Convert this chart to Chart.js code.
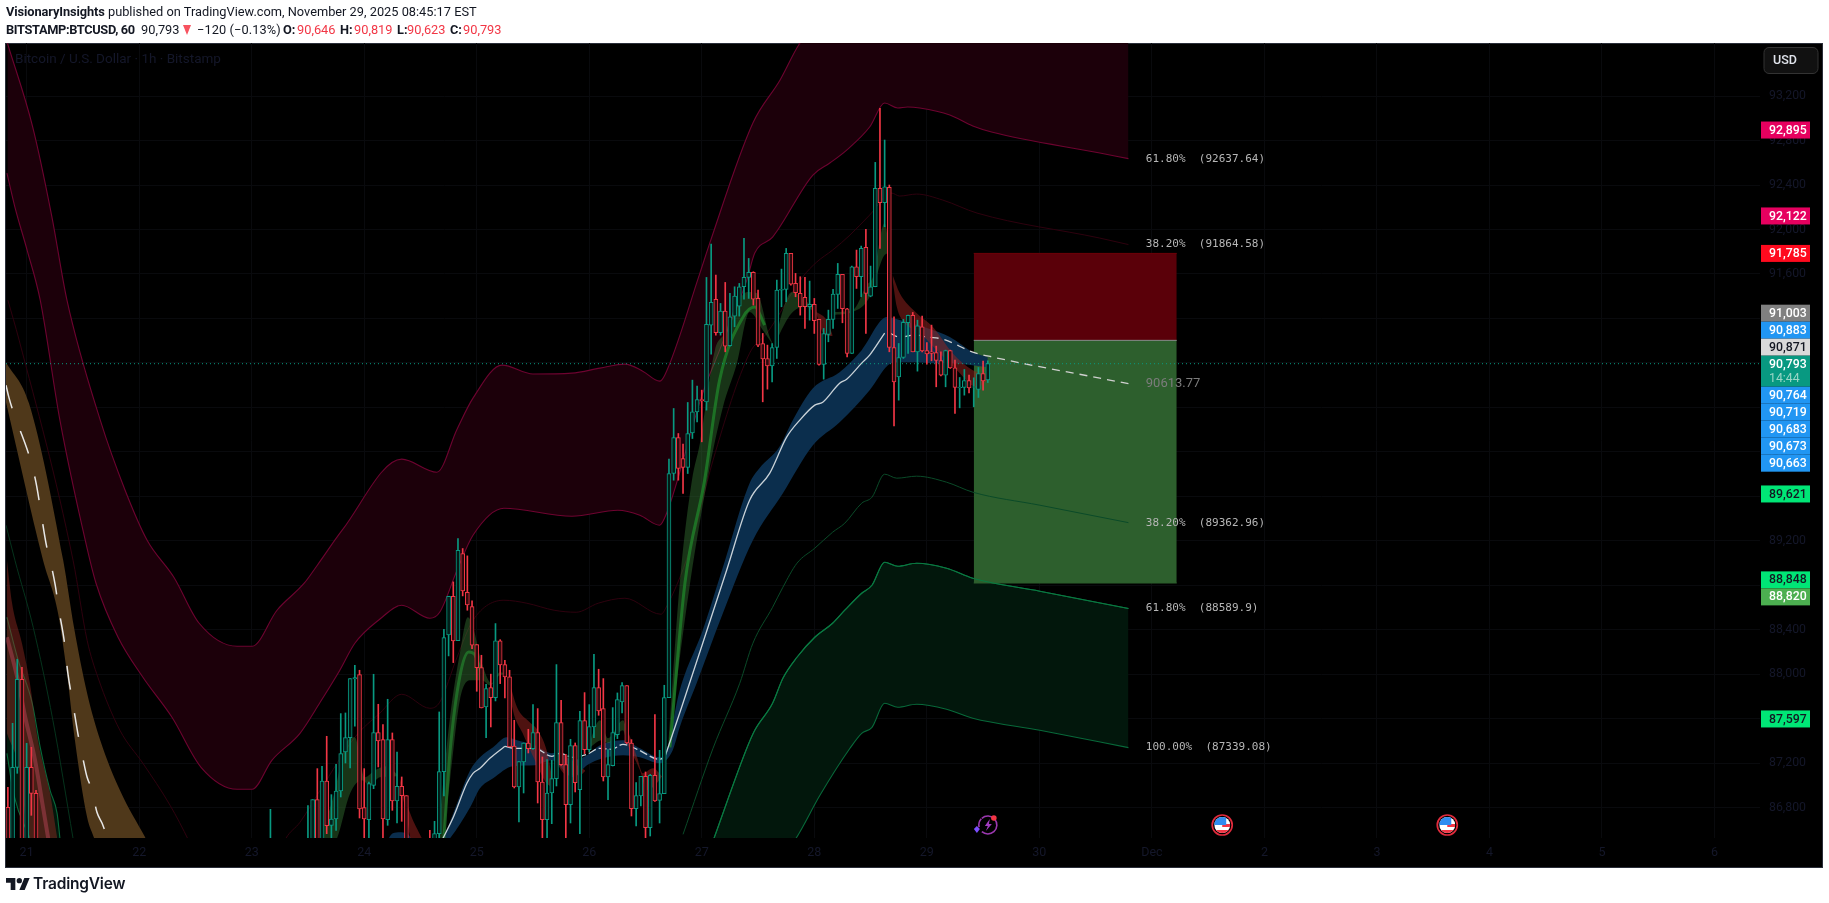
<!DOCTYPE html>
<html><head><meta charset="utf-8"><title>BTCUSD</title>
<script src="https://cdn.jsdelivr.net/npm/chart.js@4"></script>
<style>
html,body{margin:0;padding:0;background:#fff;width:1829px;height:903px;overflow:hidden;font-family:Roboto,sans-serif}
canvas{position:absolute;left:0;top:0}
.hd{position:absolute;font-size:12.8px;line-height:18px;color:#131722;white-space:nowrap;z-index:2}
.hd b{font-weight:700}.r{color:#f23645}
.tri{position:absolute;left:183px;top:25px;width:0;height:0;border-left:4.5px solid transparent;border-right:4.5px solid transparent;border-top:10px solid #f7525f;z-index:2}
#tv{position:absolute;left:6px;top:878px;z-index:2}
#tvt{position:absolute;left:33px;top:874px;font:600 15.5px/20px Inter,Roboto,sans-serif;letter-spacing:-.2px;color:#131722;z-index:2}
</style></head><body>
<div class="hd" style="left:6px;top:3px"><b style="letter-spacing:-.1px">VisionaryInsights</b> published on TradingView.com, November 29, 2025 08:45:17 EST</div>
<div class="hd" style="left:6px;top:21px;letter-spacing:-.35px"><b>BITSTAMP:BTCUSD, 60</b></div>
<div class="hd" style="left:141px;top:21px">90,793</div><div class="tri"></div>
<div class="hd" style="left:197px;top:21px;letter-spacing:.1px">−120 (−0.13%)</div>
<div class="hd" style="left:283px;top:21px"><b>O:</b></div><div class="hd r" style="left:297px;top:21px">90,646</div>
<div class="hd" style="left:340px;top:21px"><b>H:</b></div><div class="hd r" style="left:354px;top:21px">90,819</div>
<div class="hd" style="left:397px;top:21px"><b>L:</b></div><div class="hd r" style="left:407px;top:21px">90,623</div>
<div class="hd" style="left:450px;top:21px"><b>C:</b></div><div class="hd r" style="left:463px;top:21px">90,793</div>
<canvas id="c" width="1829" height="903" style="width:1829px;height:903px"></canvas>
<svg id="tv" width="24" height="12" viewBox="0 0 36 18"><path fill="#131722" d="M14 18H7V7H0V0h14v18zM28 18h-8L27.5 0h8L28 18z"/><circle cx="20" cy="4" r="4" fill="#131722"/></svg>
<div id="tvt">TradingView</div>
<script>
// ---- axes -----
const dayTickHours=[0,24,48,72,96,120,144,168,192,216,240,264,288,312,336,360];
const dayTickLabels=['21','22','23','24','25','26','27','28','29','30','Dec','2','3','4','5','6'];
const priceTicks=[86800,87200,87600,88000,88400,88800,89200,89600,90000,90400,90800,91200,91600,92000,92400,92800,93200];
// ---- candles (hours from Nov 21 00:00) -----
const candleHours=[-4,-3,-2,-1,0,1,2,52,
60,61,62,63,64,65,66,67,68,69,70,71,72,73,74,75,76,77,78,79,80,81,
86,87,88,89,90,91,92,93,94,95,96,97,98,99,100,
101,102,103,104,105,106,107,108,109,110,111,112,113,114,115,116,117,118,119,120,121,122,123,124,125,126,127,128,129,130,131,132,133,134,135,136,
137,138,139,140,141,142,143,144,145,146,147,148,149,150,151,152,153,154,155,156,157,158,159,160,161,162,163,164,
165,166,167,168,169,170,171,172,173,174,175,176,177,178,179,180,181,182,183,184,185,186,187,188,189,190,191,192,193,194,195,196,197,198,199,200,201,202,203,204,205];
const candleOpen=[86802,86300,87162,87954,86300,87162,86928,86300,
86400,86400,86871,86400,87039,86640,86697,86949,87300,87429,87957,87996,86799,86691,87000,87474,87411,86691,87411,86859,86991,86907,
86500,86400,86565,87123,88353,88701,88302,89085,88737,88608,88266,88059,87705,87879,87789,
88299,88086,87975,87354,86985,87210,87381,87330,87474,87030,86691,86931,87060,87564,87186,86826,87357,86961,87582,87321,87525,87879,87690,87075,87177,87456,87750,87897,87381,86790,86904,87081,86619,87090,86865,86925,
87789,89805,90129,89940,89859,90171,90360,90471,90450,91140,91371,91071,91266,90954,91221,91311,91485,91569,91614,91380,90975,90840,90774,90939,91455,91461,91785,91515,
91425,91389,91305,91326,91191,90786,91056,91191,91416,91596,91287,90885,91665,91575,91839,91401,91485,92370,92241,92379,90939,90675,90849,91161,91227,90900,91125,90912,90900,90894,90822,90690,90912,90756,90576,90579,90642,90582,90561,90705,90646];
const candleHigh=[86982,87558,88134,88062,87378,87342,86955,86784,
86817,86871,87150,87171,87441,86916,87189,87645,87651,87960,88080,88035,87150,87030,87999,87729,87546,87774,87471,87300,87075,86907,
86595,86676,87660,88404,88701,88830,89220,89130,89064,88659,88266,88170,87909,88000,88455,
88310,88125,88035,87585,87213,87381,87504,87726,87690,87255,87231,87225,88086,87765,87279,87414,87381,87666,87834,87726,88179,88044,87960,87321,87699,87831,87924,87897,87411,87024,87081,87120,87099,87636,87315,87900,
89934,90390,90165,90069,90444,90645,90591,90555,91569,91869,91590,91335,91524,91425,91485,91515,91920,91740,91620,91455,91065,90960,90975,91545,91644,91830,91785,91605,
91575,91569,91536,91380,91191,91110,91275,91461,91695,91596,91290,91671,91815,91851,92001,91671,92604,93090,92805,92400,91215,90975,91191,91230,91254,91185,91221,90984,91140,90951,90900,90915,90915,90825,90669,90741,90690,90666,90759,90816,90819];
const candleLow=[86200,86200,87108,86200,86200,86730,86200,86200,
86300,86300,86300,86300,86565,86400,86595,86895,87201,87156,87531,86706,86400,86400,86970,87165,86400,86640,86775,86661,86676,86300,
86300,86300,86480,86904,88164,88104,88302,88704,88575,88230,87846,87696,87429,87525,87759,
87915,87786,87345,86976,86670,86931,87291,87324,86841,86529,86529,86655,86994,87180,86529,86661,86940,86565,87285,87300,87429,87630,87039,86871,87174,87420,87651,87375,86724,86634,86814,86523,86544,86856,86661,86925,
87789,89745,89745,89625,89805,90120,90270,90090,90375,90879,91050,91050,90900,90951,91125,91221,91374,91380,91320,90945,90450,90564,90630,90840,91305,91350,91500,91395,
91230,91110,91185,91065,90780,90654,90990,91110,91290,91161,90855,90885,91470,91395,91065,91395,91485,91830,92025,90900,90234,90465,90840,90885,90900,90726,90900,90789,90819,90585,90684,90585,90750,90345,90396,90510,90531,90405,90489,90555,90623];
const candleClose=[86300,87162,87954,86300,87162,86928,86300,86400,
86500,86871,86400,87039,86637,86697,86949,87285,87429,87960,87969,86787,86697,87015,87474,87399,86697,87411,86859,86991,86907,86400,
86400,86565,87123,88329,88701,88299,89115,88749,88623,88260,88059,87696,87870,87789,88299,
88083,87975,87345,86985,87213,87381,87330,87474,87030,86691,86931,87060,87564,87186,86826,87357,87024,87582,87321,87528,87879,87669,87075,87186,87474,87771,87897,87381,86790,86907,87081,86619,87090,86859,86925,87789,
89805,90129,89850,89859,90165,90360,90471,90459,91146,91344,91071,91266,90951,91215,91401,91485,91569,91614,91374,90960,90837,90774,90939,91455,91461,91785,91509,91431,
91305,91305,91326,91179,90786,91065,91191,91419,91596,91287,90885,91665,91575,91830,91425,91485,92370,92241,92385,90939,90630,90849,91164,91227,90900,91134,90909,90882,90885,90822,90690,90912,90756,90579,90582,90642,90576,90585,90705,90639,90793];
// ---- envelope lines -----
const u100H=[-4.1,1.3,5.4,8.6,15.7,21,25.7,31.4,36.8,44.9,48.1,53.4,59.2,62,67.3,80,87.5,91.8,95.2,101.4,108,116.3,122.3,127.6,131.4,135,136.1,143.6,145.7,154.9,160.7,164.8,175,184,200,235];
const u100P=[93678,92922,92112,91365,90285,89655,89205,88872,88458,88251,88251,88575,88818,88980,89295,89934,89817,90204,90483,90780,90700,90708,90753,90789,90726,90636,90690,91608,91878,92958,93345,93669,94150,94420,94230,93888];
const u618H=[-4.2,-2.5,0.1,2.9,7.1,12.5,14.8,19.5,24.8,31,37.2,44.9,48.1,52.3,58.3,62.6,66.8,70,75.3,80,86,88.1,91.8,95.2,101.8,116.3,126.1,130.8,135,136.5,144.2,147.8,153.6,155.3,159.1,167.7,171.3,174.9,179.8,183,185.8,187.9,190.5,196.9,201.8,205.8,228.9,235];
const u618P=[92508,92202,91815,91365,90285,89205,88818,88332,87972,87612,87162,86964,86964,87225,87468,87747,88035,88278,88494,88620,88503,88557,88935,89250,89493,89421,89475,89430,89340,89448,90528,90915,91545,91788,91932,92490,92598,92715,92922,93138,93093,93102,93093,93030,92931,92877,92688,92637.64];
const u382H=[-4,-1.6,9.9,12.9,15.2,19.9,24.8,30.6,34.6,40,50,55.3,58.3,62.6,70,75.3,80,86,88.1,91.8,95.2,101.8,106.7,112.5,117.2,121.9,127.6,135.3,136.3,141.4,146.4,154.2,157.9,165.5,168.5,171.9,175.6,179.8,184.5,186.2,189.8,195.4,202.7,228.9,235];
const u382P=[91365,91005,89025,88305,87972,87495,87198,86820,86500,86000,86000,86523,86667,86955,87432,87648,87819,87693,87747,88152,88485,88665,88638,88575,88557,88638,88683,88539,88593,89115,89925,90888,91068,91572,91707,91815,91950,92130,92328,92301,92319,92265,92148,91923,91864.58];
const l382LeftH=[-4.4,-2.5,1.4,5.6,9.9];
const l382LeftP=[89340,89025,88422,87585,86523];
const l618LeftH=[-4.2,-1.8,1.2,2.9,5,6.5,7.1];
const l618LeftP=[88512,88125,87738,87342,86955,86748,86523];
const l100LeftH=[-4.2,-2.7,0.7,7.1];
const l100LeftP=[87288,86910,86523,85800];
const l382H=[140,146.4,152.1,154.9,159.1,161.3,164.3,168.1,171.9,174.5,178.1,180.3,183,185.6,189.8,196.2,201.8,216.1,235];
const l382P=[86559,87333,87918,88278,88602,88782,88998,89133,89277,89358,89538,89592,89799,89763,89781,89727,89637,89520,89362.96];
const l618H=[146.6,153.6,155.3,159.1,161.3,164.3,168.1,171.9,174.5,178.1,180.3,183,185.8,189.8,196.2,201.8,216.1,235];
const l618P=[86523,87333,87495,87738,87963,88152,88332,88458,88575,88728,88800,89007,88971,88998,88953,88863,88746,88589.9];
const l100H=[146,164.1,169.2,175.6,178.1,180.3,183,185.8,189.8,196.2,201.8,216.1,235];
const l100P=[85500,86523,86910,87333,87468,87522,87738,87702,87729,87684,87603,87495,87339.08];
// ---- central line -----
const midDownH=[-4.4,-3.8,1.8,4.3,5,6.1,6.9,8,8.8,9.9,11,12,12.9,13.9,15,16.1,16.9,17.8];
const midDownP=[90600,90492,89763,89142,89025,88800,88575,88305,88008,87729,87450,87243,87072,86964,86757,86658,86568,86487];
const midUp1H=[88.8,91,93.9,95.2,96.7,98.8,102];
const midUp1P=[86523,86712,87018,87108,87153,87243,87351];
const midFlatH=[102,104.1,108.4,112,113.7,116.5,119.5,122.3,124.8,127.2,130.2,135,136.1];
const midFlatP=[87351,87333,87333,87261,87288,87252,87279,87333,87324,87369,87324,87234,87252];
const midUp2H=[136.1,139.7,144.2,149.3,154.2,158.5,162.1,164.9,168.1,169.8,173.4,174.9,178.1,179.8,183];
const midUp2P=[87252,87702,88278,88935,89565,89808,90132,90285,90420,90447,90618,90654,90798,90870,91068];
const midEndH=[184.1,186.2,189.4,192.2,195.4,201.8,206.1,228.9,235];
const midEndP=[91068,91032,91050,91032,91014,90897,90852,90663,90613.77];
// ---- ribbons -----
const brownTopH=[-4.4,0.5,7.8,10.1,12.9,15.7,19.9,25.4];
const brownTopP=[90807,90438,89025,88422,87828,87405,86955,86523];
const brownBotH=[-4.4,3.5,6.7,8.6,10.3,12.9,14.4,16,26];
const brownBotP=[90447,89025,88548,88008,87405,86712,86523,86300,85900];
const blueTopH=[76.4,78.1,79.6,81.1,82.8,85,88.8,91,94.6,96.7,99.5,102.4,104.6,108.4,112,113.3,116.5,119.5,122.3,127.2,130.8,135,136.5,139.3,144.2,148.5,154.2,156.3,160.5,163.4,167.7,173.4,178.1,183.5,186.2,192,196.9,201.8,205];
const blueTopP=[86460,86568,86577,86568,86460,86300,86523,86748,87135,87252,87342,87432,87405,87360,87288,87297,87225,87270,87360,87405,87333,87252,87315,87855,88395,88962,89718,89853,90042,90285,90573,90717,90915,91212,91185,91113,91032,90897,90852];
const blueBotH=[76,85,90.3,94.6,96.7,99.5,103.7,108.4,112,116.5,119.5,122.9,127.2,130.8,135,137.8,139.3,142.9,148.5,154.9,161.3,167.7,173.4,179.8,183.7,185.8,189.9,193.3,196.9,205];
const blueBotP=[86300,86300,86523,86802,86973,87063,87171,87180,87225,87072,87180,87243,87270,87252,87198,87315,87522,87918,88548,89205,89628,90060,90267,90555,90780,90807,90807,90798,90798,90762];
const r1TopH=[-4.2,-3.1,-1,0.7,2.4,5,6.5];const r1TopP=[89025,88638,88278,87918,87405,86928,86532];
const r1BotH=[-4.2,-1.4,0.3,2,6.5];const r1BotP=[87468,87108,86523,86200,85900];
const r1MidH=[-4.2,-2,-0.3,1.8,3.5,4.6];const r1MidP=[88332,87972,87612,87225,86802,86523];
const g1TopH=[62.6,65.8,67.9,70,72.1,74.3,76.8,79.2];const g1TopP=[86523,86955,87360,87432,87072,87135,87171,87090];
const g1BotH=[62.6,66.2,69,71.5,73.2,75.3,78.9,79.2];const g1BotP=[86300,86523,86928,87045,87000,87072,87081,87090];
const r2TopH=[79.6,81.8,84.3];const r2TopP=[87063,86748,86523];
const r2BotH=[79.6,81.1,81.8,84.3];const r2BotP=[87018,86712,86523,86000];
const g2TopH=[87.7,90.3,92.4,94.1,95.2,97.1,99.2,100.9,102.4];const g2TopP=[86523,87612,88188,88512,88422,88098,87918,88017,88008];
const g2BotH=[87.7,88.8,90.3,92.4,94.6,97.1,98.8,100.9,102.4];const g2BotP=[86300,86523,87045,87765,87945,87945,87900,87990,88000];
const g2MidH=[89,90.3,92.4,94.3,95.5,97.1];const g2MidP=[86523,87300,87980,88200,88180,88000];
const r3TopH=[102.6,104.6,107.3,109,110.9,112.2];const r3TopP=[87990,87702,87567,87495,87315,87045];
const r3BotH=[102.6,103.7,105.8,108.4,110.9,112.2];const r3BotP=[87963,87675,87468,87225,87018,86982];
const r4TopH=[112.7,113.7,118,119.1];const r4TopP=[87225,87288,87162,87135];
const r4BotH=[112.7,115.2,118,119.1];const r4BotP=[87225,87090,87090,87126];
const g3TopH=[119.5,122.3,124,127.2,128];const g3TopP=[87315,87585,87423,87585,87495];
const g3BotH=[119.5,122.7,124,127.2,128];const g3BotP=[87315,87405,87378,87495,87378];
const r5TopH=[128.2,130.2,131.4,133.6,135.7];const r5TopP=[87495,87252,87108,87153,87072];
const r5BotH=[128.2,130.8,132.3,134.4,135.7];const r5BotP=[87360,87135,86955,87018,87090];
const g4TopH=[136.8,139.3,141.9,143.6,146.8,148.9,151.5,153.8,155.7,158.5,159.5];const g4TopP=[87342,88818,89745,90078,90915,91068,91338,91437,91428,91032,90942];
const g4BotH=[136.8,141.5,145.3,148.5,151.5,154.2,157,159.5];const g4BotP=[87333,88818,89772,90402,90798,91257,91095,90942];
const g4MidH=[137.2,140.4,144.6,147.8,152.8,155.3,157.4];const g4MidP=[87342,88818,89745,90645,91212,91302,91140];
const g5TopH=[159.5,160.7,163.2,165.5,168.5];const g5TopP=[90942,91185,91437,91383,91257];
const g5BotH=[159.5,160.7,163.4,166.4,168.5];const g5BotP=[90942,91068,91257,91302,91230];
const r6TopH=[168.5,170.6,171.9];const r6TopP=[91257,91185,91050];
const r6BotH=[168.5,170.2,171.9];const r6BotP=[91230,91050,91041];
const g6TopH=[171.9,176.2,179.2,180.5,183,184.1];const g6TopP=[91257,91275,91500,91572,92058,91788];
const g6BotH=[171.9,176.2,179.8,183,184.1];const g6BotP=[91230,91257,91392,91770,91788];
const r7TopH=[184.7,186.2,189.8,193.3,197.5,201.8,205];const r7TopP=[91590,91428,91248,91122,90888,90735,90690];
const r7BotH=[184.7,185.6,187.3,190.5,194.1,198.4,202.7,205];const r7BotP=[91545,91302,91158,91068,90915,90735,90582,90645];
// ---- position box, labels -----
const boxHours=[202,245.3];
const boxStop=91785,boxEntry=91003,boxTarget=88820;
const fibTexts=['61.80%  (92637.64)','38.20%  (91864.58)','90613.77','38.20%  (89362.96)','61.80%  (88589.9)','100.00%  (87339.08)'];
const fibPrices=[92637.64,91864.58,90613.77,89362.96,88589.9,87339.08];
const lastPrice=90793;
const labelTexts=['92,895','92,122','91,785','91,003','90,883','90,871','90,793','90,764','90,719','90,683','90,673','90,663','89,621','88,848','88,820','87,597'];
const labelPrices=[92895,92122,91785,91003,90883,90871,90793,90764,90719,90683,90673,90663,89621,88848,88820,87597];
const labelFills=['#e6005f','#e6005f','#ff0a1e','#808080','#2196f3','#d9d9d9','#089981','#2196f3','#2196f3','#2196f3','#2196f3','#2196f3','#00e676','#00e676','#4caf50','#00e676'];
const labelInks=['#fff','#fff','#fff','#fff','#fff','#131722','#fff','#fff','#fff','#fff','#fff','#fff','#131722','#131722','#fff','#131722'];
const eventHours=[204.8,255,303];

const T=(h,p)=>h.map((x,i)=>({x,y:p[i]}));
const ds=[];
function ln(h,p,color,w,extra){ds.push(Object.assign({type:'line',data:T(h,p),borderColor:color,borderWidth:w,pointRadius:0,cubicInterpolationMode:'monotone',fill:false},extra||{}));}
function band(hT,pT,hB,pB,fillC,lineC,lw){
  ln(hT,pT,lineC||'rgba(0,0,0,0)',lw||0,{fill:{target:'+1',above:fillC,below:fillC}});
  ln(hB,pB,lineC||'rgba(0,0,0,0)',lw||0);
}
const MAROON='#1c000a',UL='#6e0330',UD='#2e000e',DGREEN='#02170c',LB='#08693a',LD='#05331c';
band(u100H,u100P,u618H,u618P,MAROON,UL,1.1);
ln(u382H,u382P,UD,1);
band(l618LeftH,l618LeftP,l100LeftH,l100LeftP,DGREEN,LB,1.1);
ln(l382LeftH,l382LeftP,LD,1);
band(l618H,l618P,l100H,l100P,DGREEN,LB,1.1);
// position box
ln(boxHours,[boxStop,boxStop],'#6e0008',1,{fill:{value:boxEntry},backgroundColor:'#5a0009'});
ln(boxHours,[boxTarget,boxTarget],'#2d5f2d',1,{fill:{value:boxEntry},backgroundColor:'#2d5f2d'});
ln(boxHours,[boxEntry,boxEntry],'#8b8b8b',1);
ln(l382H,l382P,'#0a4a28',1);
ln(l618H,l618P,'#0a7a42',1.1);
// ribbons
const GF='rgba(58,125,55,.42)',RF='rgba(150,35,30,.52)';
band(brownTopH,brownTopP,brownBotH,brownBotP,'#4f381a');
band(blueTopH,blueTopP,blueBotH,blueBotP,'#0b2e4d');
band(r1TopH,r1TopP,r1BotH,r1BotP,'rgba(150,45,35,.45)');
ln(r1MidH,r1MidP,'rgba(190,70,90,.45)',4);
band(g1TopH,g1TopP,g1BotH,g1BotP,GF);
band(r2TopH,r2TopP,r2BotH,r2BotP,RF);
band(g2TopH,g2TopP,g2BotH,g2BotP,GF);
ln(g2MidH,g2MidP,'rgba(35,130,45,.7)',3);
band(r3TopH,r3TopP,r3BotH,r3BotP,RF);
band(r4TopH,r4TopP,r4BotH,r4BotP,RF);
band(g3TopH,g3TopP,g3BotH,g3BotP,GF);
band(r5TopH,r5TopP,r5BotH,r5BotP,RF);
band(g4TopH,g4TopP,g4BotH,g4BotP,GF);
ln(g4MidH,g4MidP,'rgba(30,125,40,.85)',3);
band(g5TopH,g5TopP,g5BotH,g5BotP,GF);
band(r6TopH,r6TopP,r6BotH,r6BotP,RF);
band(g6TopH,g6TopP,g6BotH,g6BotP,GF);
band(r7TopH,r7TopP,r7BotH,r7BotP,RF);
// central line
ln(midDownH,midDownP,'#e8e8e8',1.5,{borderDash:[24,24]});
ln(midUp1H,midUp1P,'#c9d2d8',1.3);
ln(midFlatH,midFlatP,'#c9d2d8',1.3,{borderDash:[8,3]});
ln(midUp2H,midUp2P,'#c9d2d8',1.3);
ln(midEndH,midEndP,'#d0d0d0',1.3,{borderDash:[8,6]});
// last price line
ln([-4.4,370],[lastPrice,lastPrice],'#089981',1,{borderDash:[1,3]});
// candles
const idx=candleHours.map((_,i)=>i);
const up=idx.filter(i=>candleClose[i]>=candleOpen[i]),dn=idx.filter(i=>candleClose[i]<candleOpen[i]);
const wick=(a,c)=>({type:'bar',grouped:false,barThickness:1,borderWidth:0,backgroundColor:c,data:a.map(i=>({x:candleHours[i],y:[candleLow[i],candleHigh[i]]}))});
const body=(a,c)=>({type:'bar',grouped:false,barThickness:4,borderWidth:1,borderSkipped:false,borderColor:c,backgroundColor:'rgba(0,0,0,.8)',data:a.map(i=>({x:candleHours[i],y:[Math.min(candleOpen[i],candleClose[i]),Math.max(candleOpen[i],candleClose[i])]}))});
const UP='#089981',DN='#f23645';
ds.push(wick(up,UP),wick(dn,DN),body(up,UP),body(dn,DN));
ds.forEach((d,i)=>{d.order=ds.length-i;});

const dim='#14172a';
const pageDecor={id:'pageDecor',
 beforeDraw(ch){const g=ch.ctx;g.save();g.fillStyle='#000';g.fillRect(6,43,1816,824);g.strokeStyle='#2a2e39';g.lineWidth=1;g.strokeRect(5.5,43.5,1817,824);g.restore();},
 afterDraw(ch){const g=ch.ctx,x=ch.scales.x,y=ch.scales.y;g.save();
  g.textBaseline='middle';
  g.font='13.5px Roboto';g.fillStyle='#14172a';g.fillText('Bitcoin / U.S. Dollar · 1h · Bitstamp',15,60);
  // fib labels
  fibTexts.forEach((t,i)=>{const px=x.getPixelForValue(238.7),py=y.getPixelForValue(fibPrices[i]);
    if(t.includes('%')){g.font='11px "DejaVu Sans Mono"';g.fillStyle='#b6b6b6';}else{g.font='13px Roboto';g.fillStyle='#7c7c7c';}
    g.fillText(t,px,py);});
  // USD button
  g.fillStyle='#111';g.strokeStyle='#333';g.beginPath();g.roundRect(1764,47.5,54,26,5);g.fill();g.stroke();
  g.font='500 12.5px Roboto';g.fillStyle='#e0e3eb';g.fillText('USD',1773,61);
  // price labels, stacked outward from the last price
  const H=17,lastIdx=labelPrices.indexOf(lastPrice),pos=[];
  const lastY=y.getPixelForValue(lastPrice);
  pos[lastIdx]=lastY-8;
  let lim=lastY-8;
  for(let i=lastIdx-1;i>=0;i--){let t=y.getPixelForValue(labelPrices[i])-8.5;if(t+H>lim)t=lim-H;pos[i]=t;lim=t;}
  lim=lastY-8+31;
  for(let i=lastIdx+1;i<labelPrices.length;i++){let t=y.getPixelForValue(labelPrices[i])-8.5;if(t<lim)t=lim;pos[i]=t;lim=t+H;}
  labelPrices.forEach((p,i)=>{const top=pos[i],h=i===lastIdx?31:H;
    g.fillStyle=labelFills[i];g.fillRect(1761,top,49,h);
    g.font='500 12.3px Roboto';g.fillStyle=labelInks[i];g.fillText(labelTexts[i],1769,top+9);
    if(i===lastIdx){g.font='12.3px Roboto';g.fillStyle='#9ad6c6';g.fillText('14:44',1769,top+23);}
  });
  // events
  eventHours.forEach((h,i)=>{const cx=x.getPixelForValue(h),cy=825;
    if(i===0){g.lineWidth=1.6;g.strokeStyle='#9c38b0';g.beginPath();g.arc(cx+1,cy,9,-2.3,2.3);g.stroke();g.beginPath();g.arc(cx+1,cy,9,2.9,3.9);g.stroke();
      g.fillStyle='#a23cc0';g.beginPath();g.moveTo(cx+3,cy-6);g.lineTo(cx-2,cy+1);g.lineTo(cx+1,cy+1);g.lineTo(cx-1,cy+6);g.lineTo(cx+5,cy-1);g.lineTo(cx+2,cy-1);g.closePath();g.fill();
      g.fillStyle='#7c4dff';g.beginPath();g.moveTo(cx-10,cy+1);g.lineTo(cx-7,cy+4);g.lineTo(cx-10,cy+8);g.lineTo(cx-13,cy+4);g.closePath();g.fill();
      g.fillStyle='#f23645';g.beginPath();g.arc(cx+7,cy-7,2.8,0,7);g.fill();
    }else{
      g.save();g.beginPath();g.arc(cx,cy,8,0,7);g.clip();g.fillStyle='#fff';g.fillRect(cx-8,cy-8,16,16);
      g.fillStyle='#f23645';g.fillRect(cx,cy-1,8,3);g.fillRect(cx-8,cy+5,16,3);g.fillStyle='#2f8cf0';g.fillRect(cx-8,cy-8,12,8);g.restore();
      g.strokeStyle='#e02b3c';g.lineWidth=1.7;g.beginPath();g.arc(cx,cy,10,0,7);g.stroke();
    }});
  g.restore();}};

new Chart(document.getElementById('c'),{
 type:'bar',
 data:{datasets:ds},
 plugins:[pageDecor],
 options:{responsive:false,animation:false,devicePixelRatio:1,
  layout:{padding:{left:6,top:43,right:7,bottom:36}},
  plugins:{legend:{display:false},tooltip:{enabled:false},title:{display:false}},
  scales:{
   x:{type:'linear',min:-4.4,max:369.7,offset:false,border:{display:false},
      grid:{color:'#090a0d',offset:false,drawTicks:false},
      afterBuildTicks:s=>{s.ticks=dayTickHours.map(value=>({value}));},
      afterFit:s=>{s.height=29;},
      ticks:{autoSkip:false,maxRotation:0,padding:7,color:dim,font:{family:'Roboto',size:12.5},callback:(v,i)=>dayTickLabels[i]}},
   y:{type:'linear',position:'right',min:86526,max:93678,border:{display:false},
      grid:{color:'#090a0d',drawTicks:false},
      afterBuildTicks:s=>{s.ticks=priceTicks.map(value=>({value}));},
      afterFit:s=>{s.width=62;},
      ticks:{autoSkip:false,padding:9,crossAlign:'near',color:dim,font:{family:'Roboto',size:12.3},callback:v=>v.toLocaleString('en-US')}}
  }}
});
</script></body></html>
